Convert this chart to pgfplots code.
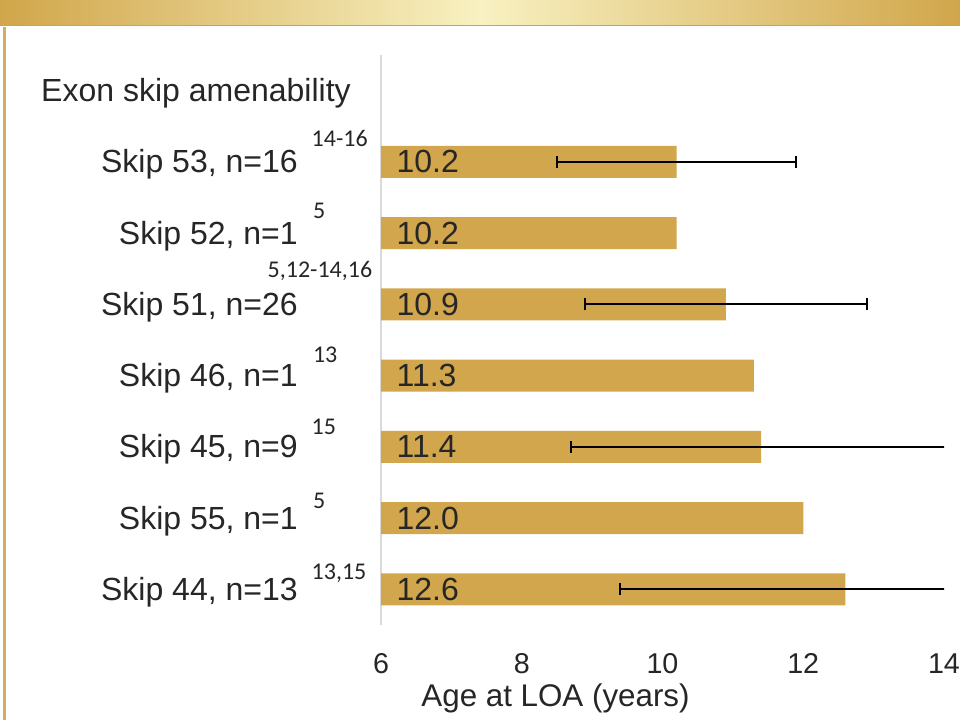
\documentclass[border=0pt]{standalone}
\usepackage{pgfplots}
\usepackage{pgfplotstable}
\pgfplotsset{compat=1.18}
\usepackage{fontspec}
\setmainfont{Liberation Sans}
\newfontfamily\supfont{Carlito}
\definecolor{barcol}{HTML}{D1A64C}
\definecolor{golddark}{HTML}{D1A64B}
\definecolor{goldlight}{HTML}{F8F1C1}
\definecolor{goldline}{HTML}{D4AE58}
\definecolor{txt}{HTML}{262626}
\definecolor{axgray}{HTML}{D9D9D9}

\pgfplotstableread{
pos val
1 10.2
2 10.2
3 10.9
4 11.3
5 11.4
6 12.0
7 12.6
}\bardata

\pgfplotstableread{
pos val em ep
1 10.2 1.7 1.7
3 10.9 2.0 2.0
5 11.4 2.7 2.7
7 12.6 3.2 3.2
}\errdata

\newcommand{\refsup}[3]{\rlap{\hspace{#1}\raisebox{#2}{\fontsize{18bp}{20bp}\selectfont\supfont #3}}}

\begin{document}
\begin{tikzpicture}
\useasboundingbox (0,0) rectangle (720bp,540bp);
\fill[white] (0,0) rectangle (720bp,540bp);
\shade[left color=golddark, right color=golddark, middle color=goldlight] (0,521.25bp) rectangle (720bp,540bp);
\draw[black!35, line width=0.6bp] (0,521.25bp) -- (720bp,521.25bp);
\draw[goldline, line width=2.25bp] (3bp,0) -- (3bp,520bp);
\begin{axis}[
  at={(285.75bp,71.25bp)}, anchor=south west,
  scale only axis, width=422.25bp, height=427.5bp,
  xmin=6, xmax=14, ymin=-0.5, ymax=7.5,
  y dir=reverse,
  xtick={6,8,10,12,14},
  ytick={0,1,2,3,4,5,6,7},
  yticklabels={
    {Exon skip amenability\kern-39.75bp},
    {Skip 53, n=16\refsup{10.5bp}{19.5bp}{14-16}},
    {Skip 52, n=1\refsup{11.5bp}{19.5bp}{5}},
    {Skip 51, n=26\refsup{-22.5bp}{28.5bp}{5,12-14,16}},
    {Skip 46, n=1\refsup{11.5bp}{18bp}{13}},
    {Skip 45, n=9\refsup{10.5bp}{17.25bp}{15}},
    {Skip 55, n=1\refsup{11.5bp}{15.75bp}{5}},
    {Skip 44, n=13\refsup{10.5bp}{15.5bp}{13,15}}
  },
  major tick length=0pt,
  axis x line*=bottom, axis y line*=left,
  x axis line style={draw=none},
  y axis line style={draw=axgray, line width=1.5bp},
  /pgf/number format/assume math mode=true,
  xticklabel style={anchor=base, inner sep=0pt, yshift=-36bp, font=\fontsize{21.5bp}{24bp}\selectfont, text=txt},
  yticklabel style={anchor=base east, inner sep=0pt, xshift=-62.25bp, yshift=-8.25bp, font=\fontsize{24bp}{28bp}\selectfont, text=txt},
  xlabel={Age at LOA (years)},
  x label style={at={(rel axis cs:0.31,0)}, anchor=base, inner sep=0pt, yshift=-61.3bp, font=\fontsize{23.5bp}{27bp}\selectfont, text=txt},
]
\addplot[xbar, bar shift=0pt, bar width=24bp, fill=barcol, draw=none] table[x=val, y=pos] {\bardata};
\addplot[draw=none, mark=none, forget plot,
  error bars/.cd, x dir=both, x explicit,
  error bar style={draw=black, line width=1.5bp},
  error mark options={draw=black, line width=1.5bp, mark size=4.5bp, rotate=90}]
  table[x=val, y=pos, x error minus=em, x error plus=ep] {\errdata};
\addplot[draw=none, mark=none, nodes near coords, point meta=explicit symbolic,
  nodes near coords style={anchor=west, inner sep=0pt, xshift=11.5bp, text=txt, font=\fontsize{24bp}{28bp}\selectfont}]
  table[x expr=6, y=pos, meta=val] {\bardata};
\end{axis}
\end{tikzpicture}
\end{document}
